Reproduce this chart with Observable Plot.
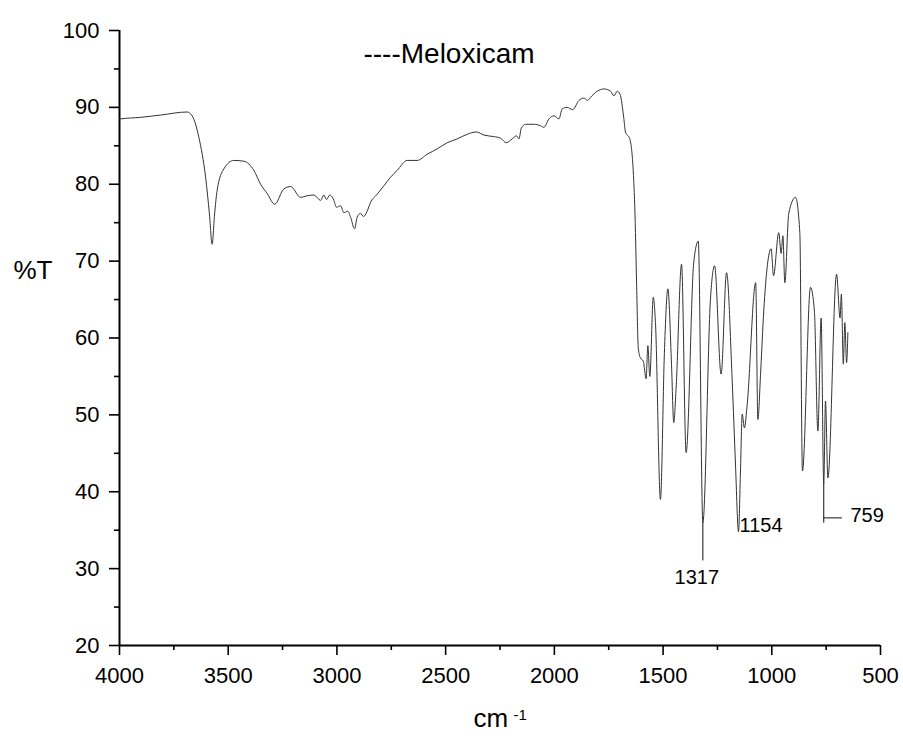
<!DOCTYPE html>
<html>
<head>
<meta charset="utf-8">
<script src="https://cdn.jsdelivr.net/npm/d3@7"></script>
<script src="https://cdn.jsdelivr.net/npm/@observablehq/plot@0.6"></script>
<style>
  html, body { margin: 0; padding: 0; background: #fff; }
  #chart { width: 903px; height: 738px; overflow: hidden; }
</style>
</head>
<body>
<div id="chart"></div>
<script>
// Wavenumber (cm-1) and transmittance (%T)
const wn = [4000, 3995, 3903, 3811, 3689, 3666, 3635, 3604, 3586, 3574, 3563, 3551, 3520, 3474, 3428, 3382, 3351, 3321, 3286, 3244, 3213, 3167, 3137, 3106, 3075, 3060, 3048, 3033, 3014, 3002, 2983, 2968, 2951, 2937, 2919, 2907, 2892, 2878, 2861, 2846, 2815, 2784, 2754, 2723, 2677, 2631, 2585, 2539, 2493, 2447, 2401, 2359, 2324, 2279, 2248, 2221, 2194, 2174, 2163, 2152, 2132, 2094, 2063, 2048, 2025, 2002, 1979, 1964, 1941, 1916, 1887, 1864, 1847, 1834, 1803, 1772, 1741, 1726, 1711, 1698, 1681, 1673, 1653, 1635, 1630, 1622, 1614, 1604, 1591, 1578, 1570, 1561, 1545, 1535, 1512, 1494, 1478, 1461, 1451, 1440, 1415, 1394, 1359, 1338, 1317, 1282, 1263, 1233, 1208, 1182, 1167, 1153, 1144, 1136, 1126, 1113, 1074, 1064, 1051, 1037, 1003, 992, 968, 957, 949, 940, 922, 891, 871, 859, 822, 804, 788, 773, 761, 753, 742, 702, 686, 680, 671, 664, 656, 650];
const T = [88.4, 88.5, 88.7, 89.0, 89.4, 88.9, 86.1, 80.9, 76.0, 72.2, 76.0, 79.2, 82.0, 83.1, 83.0, 81.8, 80.0, 78.8, 77.4, 79.4, 79.7, 78.3, 78.5, 78.6, 77.9, 78.6, 78.0, 78.6, 77.9, 77.0, 77.2, 76.3, 76.5, 75.7, 74.2, 75.7, 76.2, 75.8, 76.5, 77.6, 78.7, 79.8, 80.9, 81.8, 83.1, 83.1, 83.9, 84.6, 85.4, 85.9, 86.5, 86.8, 86.4, 86.2, 86.0, 85.4, 85.9, 86.3, 85.9, 87.3, 87.8, 87.8, 87.6, 87.4, 88.5, 88.9, 88.5, 89.8, 90.0, 89.7, 90.9, 91.2, 90.9, 91.3, 92.1, 92.4, 92.1, 91.5, 92.1, 91.7, 88.7, 86.8, 85.9, 80.5, 77.0, 67.4, 58.7, 57.4, 57.0, 54.7, 59.0, 55.0, 65.3, 62.0, 39.0, 58.0, 66.4, 56.4, 49.0, 53.5, 69.6, 45.1, 69.8, 72.6, 36.0, 65.1, 69.4, 55.3, 68.5, 54.4, 43.6, 34.8, 42.7, 50.1, 48.3, 51.4, 67.2, 49.4, 55.7, 63.5, 71.6, 68.1, 73.7, 71.0, 73.3, 67.2, 76.2, 78.3, 73.7, 42.7, 66.6, 63.5, 47.9, 62.6, 41.0, 51.8, 41.8, 68.3, 62.6, 65.7, 56.6, 62.0, 56.8, 60.7];

// Axis ticks
const xTicks = [4000, 3500, 3000, 2500, 2000, 1500, 1000, 500];
const xMinorTicks = [3750, 3250, 2750, 2250, 1750, 1250, 750];
const yTicks = [20, 30, 40, 50, 60, 70, 80, 90, 100];
const yMinorTicks = [25, 35, 45, 55, 65, 75, 85, 95];

// Texts
const titleText = ["----Meloxicam"];
const yLabel = ["%T"];
const xLabel = ["cm"];
const xLabelSup = ["-1"];

// Peak annotations
const peakLabels = ["1317", "1154", "759"];
const peakWn = [1317, 1153, 761];
const peakTop = [36.0, 34.8, 41.0];
const peakBottom = [31.0, 34.8, 35.9];
const leader759Wn = [761, 675];
const leader759T = [36.6, 36.6];

const data = wn.map((w, i) => ({w, t: T[i]}));
const font = "'Liberation Sans', Arial, Helvetica, sans-serif";

const chart = Plot.plot({
  width: 903,
  height: 738,
  marginLeft: 119,
  marginRight: 23,
  marginTop: 30,
  marginBottom: 93,
  x: {domain: [4000, 500]},
  y: {domain: [20, 100]},
  style: {fontFamily: font, fontSize: "22px", color: "#000", background: "#fff", overflow: "visible"},
  marks: [
    Plot.axisX({ticks: xTicks, tickSize: 10, tickPadding: 12, tickFormat: d => String(d), label: null, strokeWidth: 1.6}),
    Plot.axisX({ticks: xMinorTicks, tickSize: 5, tickFormat: () => "", label: null, strokeWidth: 1.6}),
    Plot.axisY({ticks: yTicks, tickSize: 10, tickPadding: 10, tickFormat: d => String(d), label: null, strokeWidth: 1.6}),
    Plot.axisY({ticks: yMinorTicks, tickSize: 5, tickFormat: () => "", label: null, strokeWidth: 1.6}),
    Plot.ruleY([20], {stroke: "#000", strokeWidth: 2}),
    Plot.ruleX([4000], {stroke: "#000", strokeWidth: 2}),
    Plot.line(data, {x: "w", y: "t", curve: "monotone-x", stroke: "#333", strokeWidth: 1}),
    // leaders
    Plot.ruleX([0, 2], {x: i => peakWn[i], y1: i => peakTop[i], y2: i => peakBottom[i], stroke: "#111", strokeWidth: 1}),
    Plot.ruleY([0], {y: i => leader759T[i], x1: () => leader759Wn[0], x2: () => leader759Wn[1], stroke: "#111", strokeWidth: 1}),
    // peak labels
    Plot.text([0], {x: i => peakWn[i], y: i => peakBottom[i], text: i => peakLabels[i], textAnchor: "middle", lineAnchor: "top", dx: -6, dy: 9, fontSize: 20, fill: "#000"}),
    Plot.text([1], {x: i => peakWn[i], y: i => peakBottom[i], text: i => peakLabels[i], textAnchor: "start", lineAnchor: "top", dx: 1, dy: -14, fontSize: 20, fill: "#000"}),
    Plot.text([2], {x: () => leader759Wn[1], y: () => leader759T[1], text: () => peakLabels[2], textAnchor: "start", lineAnchor: "top", dx: 8, dy: -10, fontSize: 20, fill: "#000"}),
    // title and axis labels
    Plot.text(titleText, {frameAnchor: "top", text: d => d, textAnchor: "middle", lineAnchor: "top", dx: -51, dy: 13, fontSize: 28, fill: "#000"}),
    Plot.text(yLabel, {frameAnchor: "left", text: d => d, textAnchor: "start", lineAnchor: "middle", dx: -106, dy: -67, fontSize: 26, fill: "#000"}),
    Plot.text(xLabel, {frameAnchor: "bottom", text: d => d, textAnchor: "start", lineAnchor: "top", dx: -26.5, dy: 63.5, fontSize: 26, fill: "#000"}),
    Plot.text(xLabelSup, {frameAnchor: "bottom", text: d => d, textAnchor: "start", lineAnchor: "top", dx: 13.5, dy: 64, fontSize: 15, fill: "#000"})
  ]
});
document.getElementById("chart").appendChild(chart);
</script>
</body>
</html>
